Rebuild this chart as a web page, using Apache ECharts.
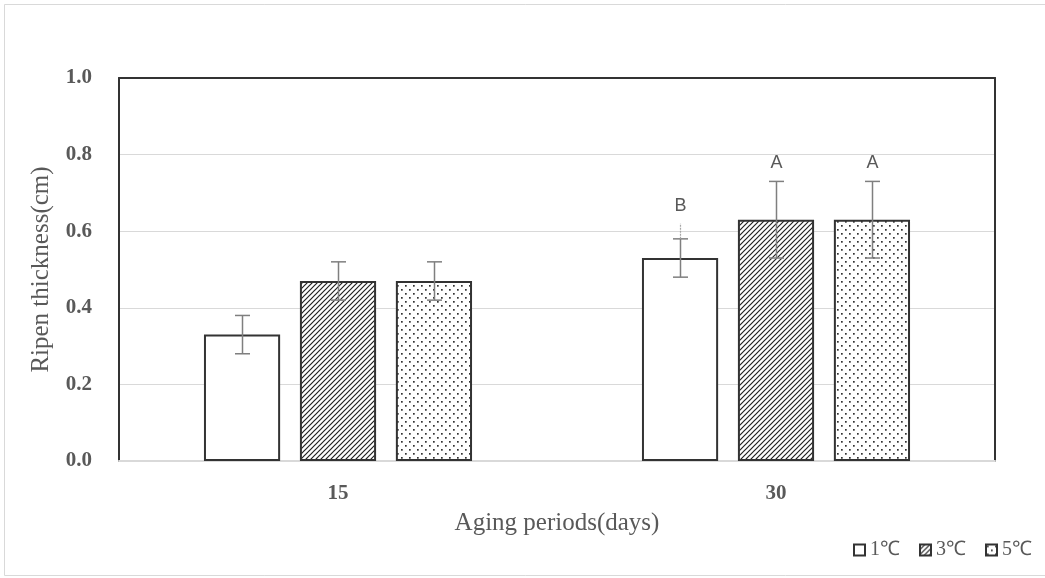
<!DOCTYPE html>
<html>
<head>
<meta charset="utf-8">
<script src="https://cdn.jsdelivr.net/npm/echarts@6/dist/echarts.min.js"></script>
<style>html,body{margin:0;padding:0;background:#fff}#c{width:1045px;height:578px}</style>
</head>
<body>
<div id="c"></div>
<script>
var categories = ['15', '30'];
var seriesNames = ['1\u2103', '3\u2103', '5\u2103'];
var values1 = [0.33, 0.53];
var values3 = [0.47, 0.63];
var values5 = [0.47, 0.63];
var errLow1 = [0.28, 0.48];
var errHigh1 = [0.38, 0.58];
var errLow3 = [0.42, 0.53];
var errHigh3 = [0.52, 0.73];
var errLow5 = [0.42, 0.53];
var errHigh5 = [0.52, 0.73];
var extraTop1 = [null, 0.62];
var letters1 = ['', 'B'];
var letters3 = ['', 'A'];
var letters5 = ['', 'A'];

function makeHatch() {
  var c = document.createElement('canvas');
  c.width = 5; c.height = 5;
  var g = c.getContext('2d');
  g.fillStyle = '#fff'; g.fillRect(0, 0, 5, 5);
  g.strokeStyle = '#222'; g.lineWidth = 1.2;
  g.beginPath();
  g.moveTo(-1, 6); g.lineTo(6, -1);
  g.moveTo(-1, 1); g.lineTo(1, -1);
  g.moveTo(4, 6); g.lineTo(6, 4);
  g.stroke();
  return c;
}
function makeDots() {
  var c = document.createElement('canvas');
  c.width = 8; c.height = 8;
  var g = c.getContext('2d');
  g.fillStyle = '#fff'; g.fillRect(0, 0, 8, 8);
  g.fillStyle = '#333';
  g.fillRect(1, 1, 1.7, 1.7);
  g.fillRect(5, 5, 1.7, 1.7);
  return c;
}

var catGap = 0.388, barGapR = 0.26;
var allLow = [errLow1, errLow3, errLow5];
var allHigh = [errHigh1, errHigh3, errHigh5];
var allLetters = [letters1, letters3, letters5];
var errData = [];
for (var s = 0; s < 3; s++) {
  for (var i = 0; i < categories.length; i++) {
    errData.push([i, allLow[s][i], allHigh[s][i], s, s === 0 ? extraTop1[i] : null, allLetters[s][i]]);
  }
}

var serif = '"Liberation Serif", "Times New Roman", serif';
var gray = '#595959';
var borderC = '#333333';

var chart = echarts.init(document.getElementById('c'));
chart.setOption({
  animation: false,
  backgroundColor: '#fff',
  graphic: [{
    type: 'rect', silent: true, z: -10,
    shape: { x: 4.5, y: 4.5, width: 1100, height: 571 },
    style: { fill: 'none', stroke: '#d9d9d9', lineWidth: 1 }
  }],
  grid: { left: 119, right: 50, top: 78, bottom: 117, containLabel: false },
  legend: {
    left: 848, top: 535,
    itemWidth: 11, itemHeight: 11, itemGap: 19,
    icon: 'rect',
    data: seriesNames,
    textStyle: { fontFamily: serif, fontSize: 20, color: gray, padding: [0, 0, 0, 0] }
  },
  xAxis: [{
    type: 'category', data: categories, position: 'bottom',
    axisLine: { onZero: false, lineStyle: { color: '#d9d9d9', width: 2 } },
    axisTick: { show: false },
    axisLabel: { fontFamily: serif, fontWeight: 'bold', fontSize: 21, color: gray, margin: 22 },
    name: 'Aging periods(days)', nameLocation: 'middle', nameGap: 50,
    nameTextStyle: { fontFamily: serif, fontSize: 25, color: gray }
  }, {
    type: 'category', data: categories, position: 'top',
    axisLine: { onZero: false, lineStyle: { color: borderC, width: 2 } },
    axisTick: { show: false }, axisLabel: { show: false }
  }],
  yAxis: [{
    type: 'value', min: 0, max: 1, interval: 0.2,
    axisLine: { show: true, onZero: false, lineStyle: { color: borderC, width: 2 } },
    axisTick: { show: false },
    splitLine: { lineStyle: { color: '#d9d9d9', width: 1 } },
    axisLabel: {
      fontFamily: serif, fontWeight: 'bold', fontSize: 21, color: gray, margin: 27,
      formatter: function (v) { return v.toFixed(1); }
    },
    name: 'Ripen thickness(cm)', nameLocation: 'middle', nameGap: 65,
    nameTextStyle: { fontFamily: serif, fontSize: 25, color: gray }
  }, {
    type: 'value', min: 0, max: 1, interval: 0.2, position: 'right',
    axisLine: { show: true, onZero: false, lineStyle: { color: borderC, width: 2 } },
    axisTick: { show: false }, axisLabel: { show: false }, splitLine: { show: false }
  }],
  series: [{
    name: seriesNames[0], type: 'bar', data: values1,
    barCategoryGap: (catGap * 100) + '%', barGap: (barGapR * 100) + '%',
    itemStyle: { color: '#ffffff', borderColor: borderC, borderWidth: 2 }
  }, {
    name: seriesNames[1], type: 'bar', data: values3,
    itemStyle: { color: { image: makeHatch(), repeat: 'repeat' }, borderColor: borderC, borderWidth: 2 }
  }, {
    name: seriesNames[2], type: 'bar', data: values5,
    itemStyle: { color: { image: makeDots(), repeat: 'repeat' }, borderColor: borderC, borderWidth: 2 }
  }, {
    type: 'custom', data: errData, z: 10, silent: true,
    renderItem: function (params, api) {
      var cat = api.value(0), lo = api.value(1), hi = api.value(2), s = api.value(3);
      var ext = api.value(4);
      var letter = errData[params.dataIndex][5];
      var bw = api.size([1, 0])[0];
      var groupW = bw * (1 - catGap);
      var barW = groupW / (3 + 2 * barGapR);
      var off = (s - 1) * barW * (1 + barGapR);
      var pLo = api.coord([cat, lo]);
      var pHi = api.coord([cat, hi]);
      var x = Math.round(pLo[0] + off) + 0.5;
      var cw = 7.5;
      var st = { stroke: '#7f7f7f', lineWidth: 1.5 };
      var ch = [
        { type: 'line', shape: { x1: x, y1: pLo[1], x2: x, y2: pHi[1] }, style: st },
        { type: 'line', shape: { x1: x - cw, y1: pLo[1], x2: x + cw, y2: pLo[1] }, style: st },
        { type: 'line', shape: { x1: x - cw, y1: pHi[1], x2: x + cw, y2: pHi[1] }, style: st }
      ];
      var topY = pHi[1];
      if (ext != null && !isNaN(ext)) {
        var pE = api.coord([cat, ext]);
        ch.push({ type: 'line', shape: { x1: x, y1: pHi[1], x2: x, y2: pE[1] },
          style: { stroke: '#a6a6a6', lineWidth: 1.2, lineDash: [2, 1] } });
        topY = pE[1];
      }
      if (letter) {
        ch.push({ type: 'text', style: {
          text: letter, x: x, y: topY - 9, align: 'center', verticalAlign: 'bottom',
          fontFamily: '"Liberation Sans", Arial, sans-serif', fontSize: 18, fill: gray
        } });
      }
      return { type: 'group', children: ch };
    }
  }]
});
</script>
</body>
</html>
